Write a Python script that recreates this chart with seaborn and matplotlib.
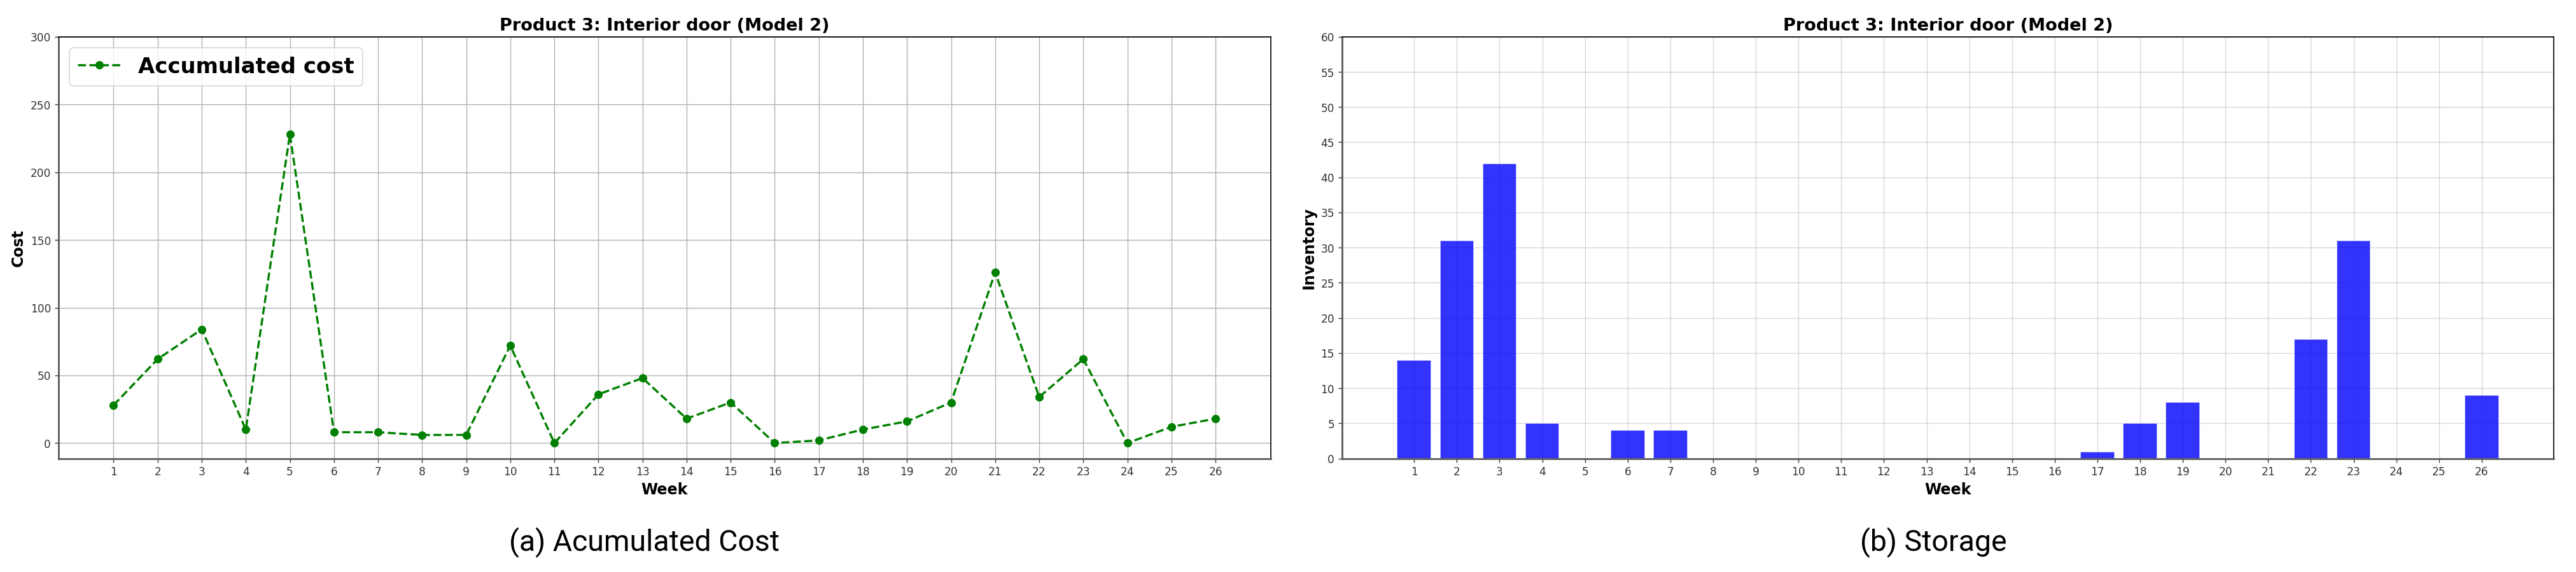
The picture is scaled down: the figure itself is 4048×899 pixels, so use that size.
import matplotlib
matplotlib.use("Agg")
import matplotlib.pyplot as plt
import pandas as pd
import seaborn as sns

# dados
weeks = list(range(1, 27))
cost = [28, 62, 84, 10, 228, 8, 8, 6, 6, 72, 0, 36, 48, 18, 30, 0, 2, 10, 16, 30,
        126, 34, 62, 0, 12, 18]
inventory = [14, 31, 42, 5, 0, 4, 4, 0, 0, 0, 0, 0, 0, 0, 0, 0, 1, 5, 8, 0, 0,
             17, 31, 0, 0, 9]
cost_ticks = list(range(0, 301, 50))
inv_ticks = list(range(0, 61, 5))

title = "Product 3: Interior door (Model 2)"
captions = ["(a) Acumulated Cost", "(b) Storage"]

df = pd.DataFrame({"Week": weeks, "Cost": cost, "Inventory": inventory})

sns.set_theme(style="ticks", rc={
    "font.size": 10, "xtick.labelsize": 10, "ytick.labelsize": 10,
    "axes.edgecolor": "black", "xtick.color": "#333333", "ytick.color": "#333333",
    "xtick.major.size": 3.5, "ytick.major.size": 3.5,
    "xtick.major.width": 0.8, "ytick.major.width": 0.8,
    "text.color": "black", "axes.labelcolor": "black",
})
plt.rcParams["font.family"] = ["DejaVu Sans"]

DPI = 122
fig = plt.figure(figsize=(4048.5 / DPI, 899.5 / DPI), dpi=DPI)
ax1 = fig.add_axes([0.0227, 0.1983, 0.4705, 0.7369])
ax2 = fig.add_axes([0.5209, 0.1983, 0.4704, 0.7369])


def _spines(ax):
    for s in ("top", "right"):
        ax.spines[s].set_color("black")
        ax.spines[s].set_linewidth(1.0)
    for s in ("left", "bottom"):
        ax.spines[s].set_color("#555555")
        ax.spines[s].set_linewidth(1.6)


# (a) custo acumulado
sns.lineplot(data=df, x="Week", y="Cost", ax=ax1, color="green", linestyle="--",
             linewidth=2, marker="o", markersize=7, markeredgecolor="green",
             errorbar=None, label="Accumulated cost")
ax1.set_xticks(weeks)
ax1.set_yticks(cost_ticks)
ax1.set_ylim(top=300)
ax1.grid(True, color="#b0b0b0", linewidth=0.8)
ax1.set_axisbelow(True)
ax1.set_title(title, fontsize=16, fontweight="bold")
ax1.set_xlabel("Week", fontsize=14, fontweight="bold")
ax1.set_ylabel("Cost", fontsize=14, fontweight="bold")
ax1.legend(loc="upper left", prop={"size": 20, "weight": "bold"})
_spines(ax1)

# (b) estoque
sns.barplot(data=df, x="Week", y="Inventory", ax=ax2, native_scale=True,
            color="blue", alpha=0.8, saturation=1, errorbar=None, width=0.8)
ax2.set_xticks(weeks)
ax2.set_xticklabels([str(w) for w in weeks])
ax2.set_yticks(inv_ticks)
ax2.set_ylim(0, 60)
ax2.set_xlim(0.6 - 1.29, 26.4 + 1.29)
ax2.grid(True, color="#b0b0b0", linewidth=0.8, alpha=0.5)
ax2.set_axisbelow(True)
ax2.set_title(title, fontsize=16, fontweight="bold")
ax2.set_xlabel("Week", fontsize=14, fontweight="bold")
ax2.set_ylabel("Inventory", fontsize=14, fontweight="bold")
_spines(ax2)

for xc, cap in zip([0.2502, 0.7505], captions):
    fig.text(xc, 0.038, cap, ha="center", va="baseline", fontsize=27.4,
             family=["Roboto", "DejaVu Sans"])

fig.savefig("out.png", dpi=DPI)
